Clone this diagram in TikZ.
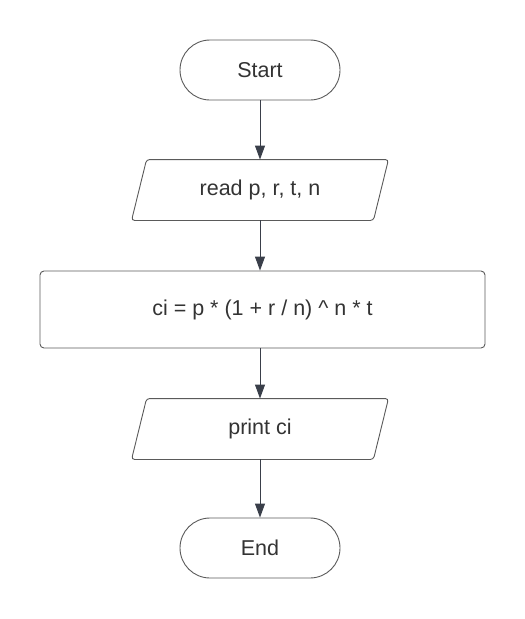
\documentclass[tikz,border=0pt]{standalone}
\usepackage{fontspec}
\setmainfont{Liberation Sans}
\definecolor{linegray}{RGB}{90, 90, 90}
\definecolor{arrowdark}{RGB}{58, 63, 74}
\definecolor{textdark}{RGB}{51, 51, 51}
\usetikzlibrary{arrows.meta}

\begin{document}
\begin{tikzpicture}[x=1pt, y=-1pt,
    base/.style={draw=linegray, line width=0.9pt, text=textdark,
                 font=\fontsize{21.5}{26}\selectfont, inner sep=0pt},
    terminal/.style={base, rectangle, rounded corners=30pt,
                     minimum width=160pt, minimum height=60pt},
    io/.style={base, draw=none, rectangle,
               minimum width=256pt, minimum height=60pt},
    ioline/.style={draw=linegray, line width=0.9pt, rounded corners=3pt},
    process/.style={base, rectangle, rounded corners=4pt,
                    minimum width=445pt, minimum height=77pt},
    arr/.style={-{Triangle[length=14pt, width=10pt]}, line width=1pt, arrowdark}
  ]
    \useasboundingbox (0, 0) rectangle (525, 619);

    \node[terminal] (start) at (260, 70) {Start};
    \node[io] (read) at (260, 190) {read p, r, t, n};
    \node[process] (calc) at (262.5, 309.5) {ci = p * (1 + r / n) \^{} n * t};
    \node[io] (print) at (260, 429) {print ci};
    \node[terminal] (stop) at (260, 548) {End};

    % slanted input/output boxes
    \foreach \n in {read, print}
      \draw[ioline] (\n.south west) -- ([xshift=15pt]\n.north west)
        -- (\n.north east) -- ([xshift=-15pt]\n.south east) -- cycle;

    \draw[arr] (start) -- (read);
    \draw[arr] (read) -- (read |- calc.north);
    \draw[arr] (calc.south -| print) -- (print);
    \draw[arr] (print) -- (stop);
  \end{tikzpicture}
\end{document}
